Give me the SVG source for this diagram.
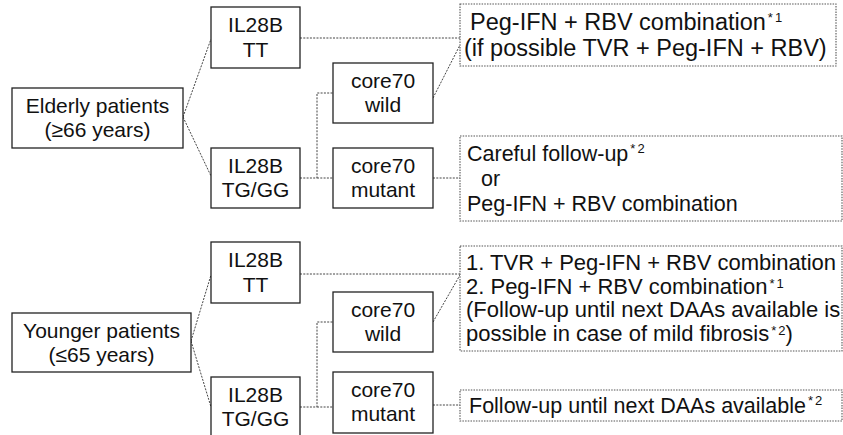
<svg xmlns="http://www.w3.org/2000/svg" width="843" height="435" viewBox="0 0 843 435">
<style>
.node{fill:#fff;stroke:#222;stroke-width:1.3}
.res{fill:#fff;stroke:#555;stroke-width:1.1;stroke-dasharray:1.5 1.2}
.nt{font-family:"Liberation Sans",Arial,sans-serif;font-size:21px;fill:#111;text-anchor:middle}
.rt{font-family:"Liberation Sans",Arial,sans-serif;font-size:21.5px;fill:#111}
.big{font-size:23.5px}
.mid{font-size:22px}
.sup{font-size:13px}
#connectors path{fill:none;stroke:#444;stroke-width:1;stroke-dasharray:2 1.3}
</style>
<rect width="843" height="435" fill="#fff"/>
<g id="connectors">
<path d="M183,117 L211,39 M183,117 L211,176"/>
<path d="M300,38 L460,38"/>
<path d="M300,178 L317,178 L317,93 L333,93 M317,178 L333,178"/>
<path d="M433,98 L460,45"/>
<path d="M433,178 L460,178"/>
<path d="M191,341 L211,275 M191,341 L211,407"/>
<path d="M300,274 L460,274"/>
<path d="M300,407 L317,407 L317,322 L333,322 M317,407 L333,407"/>
<path d="M433,322 L460,275"/>
<path d="M433,405 L460,405"/>
</g>
<g id="elderly"><rect class="node" x="12" y="88" width="171" height="60"/><text class="nt" x="97.5" y="113">Elderly patients</text><text class="nt" x="97.5" y="137">(≥66 years)</text></g>
<g id="il28b-tt-1"><rect class="node" x="211" y="7" width="89" height="61"/><text class="nt" x="255.5" y="32">IL28B</text><text class="nt" x="255.5" y="57">TT</text></g>
<g id="il28b-tggg-1"><rect class="node" x="211" y="148" width="89" height="60"/><text class="nt" x="255.5" y="173">IL28B</text><text class="nt" x="255.5" y="197">TG/GG</text></g>
<g id="core70-wild-1"><rect class="node" x="333" y="63" width="100" height="60"/><text class="nt" x="383" y="88">core70</text><text class="nt" x="383" y="112">wild</text></g>
<g id="core70-mutant-1"><rect class="node" x="333" y="148" width="100" height="60"/><text class="nt" x="383" y="173">core70</text><text class="nt" x="383" y="197">mutant</text></g>
<g id="result-1"><rect class="res" x="460" y="4" width="376" height="62"/><text class="rt big" x="470" y="30">Peg-IFN + RBV combination<tspan class="sup" dx="2" dy="-8">*</tspan><tspan class="sup" dx="2">1</tspan></text><text class="rt big" x="464" y="56">(if possible TVR + Peg-IFN + RBV)</text></g>
<g id="result-2"><rect class="res" x="460" y="136" width="382" height="85"/><text class="rt" x="467" y="161">Careful follow-up<tspan class="sup" dx="2" dy="-8">*</tspan><tspan class="sup" dx="2">2</tspan></text><text class="rt" x="481" y="186">or</text><text class="rt" x="467" y="211">Peg-IFN + RBV combination</text></g>
<g id="younger"><rect class="node" x="12" y="313" width="179" height="59"/><text class="nt" x="101.5" y="338">Younger patients</text><text class="nt" x="101.5" y="362">(≤65 years)</text></g>
<g id="il28b-tt-2"><rect class="node" x="211" y="242" width="89" height="61"/><text class="nt" x="255.5" y="267">IL28B</text><text class="nt" x="255.5" y="292">TT</text></g>
<g id="il28b-tggg-2"><rect class="node" x="211" y="377" width="89" height="70"/><text class="nt" x="255.5" y="402">IL28B</text><text class="nt" x="255.5" y="426">TG/GG</text></g>
<g id="core70-wild-2"><rect class="node" x="333" y="292" width="100" height="60"/><text class="nt" x="383" y="317">core70</text><text class="nt" x="383" y="341">wild</text></g>
<g id="core70-mutant-2"><rect class="node" x="333" y="372" width="100" height="61"/><text class="nt" x="383" y="397">core70</text><text class="nt" x="383" y="421">mutant</text></g>
<g id="result-3"><rect class="res" x="460" y="246" width="382" height="105"/><text class="rt mid" x="466" y="270">1. TVR + Peg-IFN + RBV combination</text><text class="rt mid" x="466" y="293.5">2. Peg-IFN + RBV combination<tspan class="sup" dx="2" dy="-6">*</tspan><tspan class="sup" dx="2">1</tspan></text><text class="rt mid" x="466" y="317"> (Follow-up until next DAAs available is</text><text class="rt mid" x="466" y="340.5">possible in case of mild fibrosis<tspan class="sup" dx="2" dy="-6">*</tspan><tspan class="sup" dx="2">2</tspan><tspan dy="6">)</tspan></text></g>
<g id="result-4"><rect class="res" x="460" y="390" width="382" height="31"/><text class="rt" x="469" y="413">Follow-up until next DAAs available<tspan class="sup" dx="2" dy="-8">*</tspan><tspan class="sup" dx="2">2</tspan></text></g>
</svg>
